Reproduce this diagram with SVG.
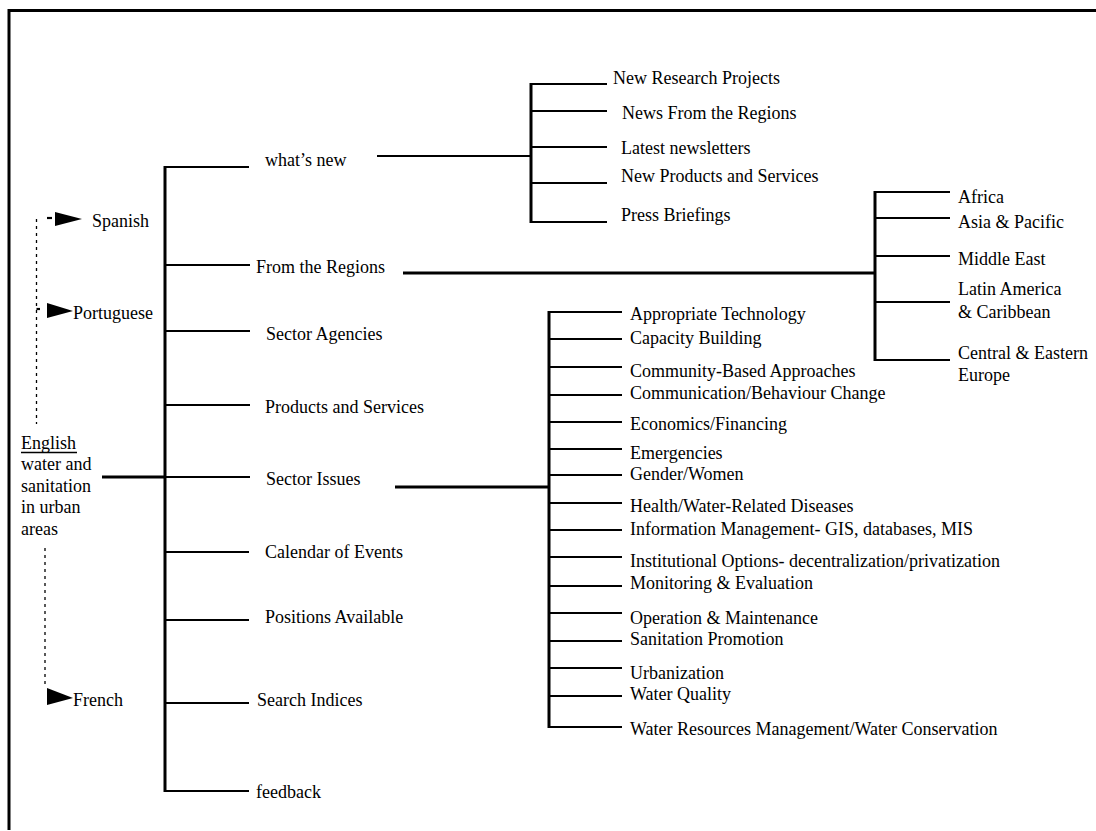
<svg xmlns="http://www.w3.org/2000/svg" width="1096" height="831" viewBox="0 0 1096 831">
<style>
.t{font-family:"Liberation Serif","Times New Roman",serif;font-size:18px;fill:#000}
.ln{stroke:#000;stroke-width:2.2;fill:none}
.thk{stroke:#000;stroke-width:3;fill:none}
.dash{stroke:#000;stroke-width:1.3;fill:none;stroke-dasharray:3 4}
.ah{fill:#000}
</style>
<rect x="0" y="0" width="1096" height="831" fill="#fff"/>
<g id="frame">
<line class="thk" x1="9" y1="10.5" x2="1096" y2="10.5"/>
<line class="thk" x1="9" y1="9" x2="9" y2="830"/>
</g>
<g id="connectors">
<!-- root to main trunk -->
<line class="thk" x1="102" y1="477" x2="165" y2="477"/>
<line class="thk" x1="165" y1="166" x2="165" y2="792"/>
<line class="ln" x1="165" y1="167" x2="249" y2="167"/>
<line class="ln" x1="165" y1="265" x2="250" y2="265"/>
<line class="ln" x1="165" y1="331" x2="250" y2="331"/>
<line class="ln" x1="165" y1="405" x2="250" y2="405"/>
<line class="ln" x1="165" y1="477" x2="250" y2="477"/>
<line class="ln" x1="165" y1="552" x2="249" y2="552"/>
<line class="ln" x1="165" y1="620" x2="249" y2="620"/>
<line class="ln" x1="165" y1="703" x2="249" y2="703"/>
<line class="ln" x1="165" y1="791" x2="249" y2="791"/>
<!-- what's new subtree -->
<line class="ln" x1="377" y1="156" x2="531" y2="156"/>
<line class="thk" x1="531" y1="83" x2="531" y2="223"/>
<line class="ln" x1="531" y1="84" x2="607" y2="84"/>
<line class="ln" x1="531" y1="111" x2="607" y2="111"/>
<line class="ln" x1="531" y1="147" x2="607" y2="147"/>
<line class="ln" x1="531" y1="183" x2="607" y2="183"/>
<line class="ln" x1="531" y1="222" x2="607" y2="222"/>
<!-- from the regions subtree -->
<line class="thk" x1="403" y1="273" x2="875" y2="273"/>
<line class="thk" x1="875" y1="191" x2="875" y2="361"/>
<line class="ln" x1="875" y1="192" x2="950" y2="192"/>
<line class="ln" x1="875" y1="218" x2="950" y2="218"/>
<line class="ln" x1="875" y1="256" x2="950" y2="256"/>
<line class="ln" x1="875" y1="302" x2="950" y2="302"/>
<line class="ln" x1="875" y1="360" x2="950" y2="360"/>
<!-- sector issues subtree -->
<line class="thk" x1="395" y1="487" x2="549" y2="487"/>
<line class="thk" x1="549" y1="311" x2="549" y2="728"/>
<line class="ln" x1="549" y1="312" x2="622" y2="312"/>
<line class="ln" x1="549" y1="339" x2="622" y2="339"/>
<line class="ln" x1="549" y1="367" x2="622" y2="367"/>
<line class="ln" x1="549" y1="395" x2="622" y2="395"/>
<line class="ln" x1="549" y1="422" x2="622" y2="422"/>
<line class="ln" x1="549" y1="449" x2="622" y2="449"/>
<line class="ln" x1="549" y1="475" x2="622" y2="475"/>
<line class="ln" x1="549" y1="503" x2="622" y2="503"/>
<line class="ln" x1="549" y1="530" x2="622" y2="530"/>
<line class="ln" x1="549" y1="557" x2="622" y2="557"/>
<line class="ln" x1="549" y1="586" x2="622" y2="586"/>
<line class="ln" x1="549" y1="613" x2="622" y2="613"/>
<line class="ln" x1="549" y1="641" x2="622" y2="641"/>
<line class="ln" x1="549" y1="668" x2="622" y2="668"/>
<line class="ln" x1="549" y1="696" x2="622" y2="696"/>
<line class="ln" x1="549" y1="727" x2="622" y2="727"/>
<!-- language links (dashed) -->
<line class="dash" x1="36.5" y1="219" x2="36.5" y2="424"/>
<line class="ln" x1="47" y1="218" x2="52" y2="218" stroke-width="1.5"/>
<polygon class="ah" points="55,212 55,226 82,219"/>
<line class="ln" x1="36.5" y1="309" x2="40" y2="309" stroke-width="1.5"/>
<polygon class="ah" points="47,303 47,318 73,311"/>
<line class="dash" x1="45" y1="548" x2="45" y2="684"/>
<polygon class="ah" points="47,688 47,705 73,698"/>
</g>
<g id="n-root">
<text class="t" x="21" y="449">English</text>
<line x1="21" y1="452.5" x2="77" y2="452.5" stroke="#000" stroke-width="1.3"/>
<text class="t" x="21" y="470">water and</text>
<text class="t" x="21" y="492">sanitation</text>
<text class="t" x="21" y="513">in urban</text>
<text class="t" x="21" y="535">areas</text>
</g>
<g id="n-spanish"><text class="t" x="92" y="227">Spanish</text></g>
<g id="n-portuguese"><text class="t" x="73" y="319">Portuguese</text></g>
<g id="n-french"><text class="t" x="73" y="706">French</text></g>
<g id="n-whats-new"><text class="t" x="265" y="166">what’s new</text></g>
<g id="n-from-regions"><text class="t" x="256" y="273">From the Regions</text></g>
<g id="n-sector-agencies"><text class="t" x="266" y="340">Sector Agencies</text></g>
<g id="n-products"><text class="t" x="265" y="413">Products and Services</text></g>
<g id="n-sector-issues"><text class="t" x="266" y="485">Sector Issues</text></g>
<g id="n-calendar"><text class="t" x="265" y="558">Calendar of Events</text></g>
<g id="n-positions"><text class="t" x="265" y="623">Positions Available</text></g>
<g id="n-search"><text class="t" x="257" y="706">Search Indices</text></g>
<g id="n-feedback"><text class="t" x="256" y="798">feedback</text></g>
<g id="n-new-research"><text class="t" x="613" y="84">New Research Projects</text></g>
<g id="n-news-regions"><text class="t" x="622" y="119">News From the Regions</text></g>
<g id="n-latest-newsletters"><text class="t" x="621" y="154">Latest newsletters</text></g>
<g id="n-new-products"><text class="t" x="621" y="182">New Products and Services</text></g>
<g id="n-press"><text class="t" x="621" y="221">Press Briefings</text></g>
<g id="n-africa"><text class="t" x="958" y="203">Africa</text></g>
<g id="n-asia"><text class="t" x="958" y="228">Asia &amp; Pacific</text></g>
<g id="n-middle-east"><text class="t" x="958" y="265">Middle East</text></g>
<g id="n-latin-america"><text class="t" x="958" y="295">Latin America</text><text class="t" x="958" y="318">&amp; Caribbean</text></g>
<g id="n-central-europe"><text class="t" x="958" y="359">Central &amp; Eastern</text><text class="t" x="958" y="381">Europe</text></g>
<g id="n-appropriate"><text class="t" x="630" y="320">Appropriate Technology</text></g>
<g id="n-capacity"><text class="t" x="630" y="344">Capacity Building</text></g>
<g id="n-community"><text class="t" x="630" y="377">Community-Based Approaches</text></g>
<g id="n-communication"><text class="t" x="630" y="399">Communication/Behaviour Change</text></g>
<g id="n-economics"><text class="t" x="630" y="430">Economics/Financing</text></g>
<g id="n-emergencies"><text class="t" x="630" y="459">Emergencies</text></g>
<g id="n-gender"><text class="t" x="630" y="480">Gender/Women</text></g>
<g id="n-health"><text class="t" x="630" y="512">Health/Water-Related Diseases</text></g>
<g id="n-information"><text class="t" x="630" y="535">Information Management- GIS, databases, MIS</text></g>
<g id="n-institutional"><text class="t" x="630" y="567">Institutional Options- decentralization/privatization</text></g>
<g id="n-monitoring"><text class="t" x="630" y="589">Monitoring &amp; Evaluation</text></g>
<g id="n-operation"><text class="t" x="630" y="624">Operation &amp; Maintenance</text></g>
<g id="n-sanitation"><text class="t" x="630" y="645">Sanitation Promotion</text></g>
<g id="n-urbanization"><text class="t" x="630" y="679">Urbanization</text></g>
<g id="n-water-quality"><text class="t" x="630" y="700">Water Quality</text></g>
<g id="n-water-resources"><text class="t" x="630" y="735">Water Resources Management/Water Conservation</text></g>
</svg>
